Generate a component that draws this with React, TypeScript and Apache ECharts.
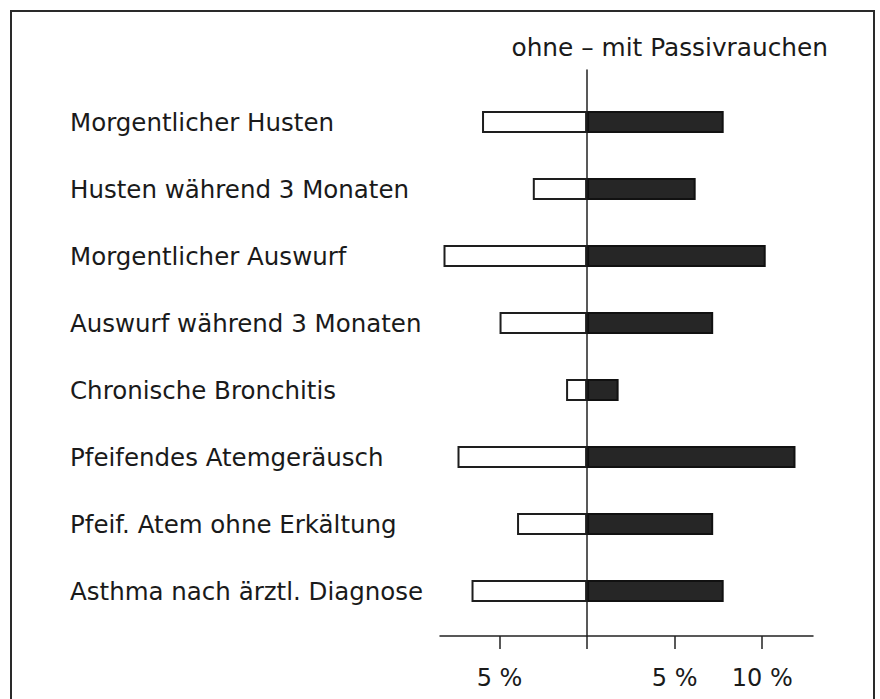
import React, { useEffect, useRef } from "react";
import * as echarts from "echarts";

const categories = [
  "Morgentlicher Husten",
  "Husten während 3 Monaten",
  "Morgentlicher Auswurf",
  "Auswurf während 3 Monaten",
  "Chronische Bronchitis",
  "Pfeifendes Atemgeräusch",
  "Pfeif. Atem ohne Erkältung",
  "Asthma nach ärztl. Diagnose",
];
const ohnePassivrauchen = [6.0, 3.1, 8.2, 5.0, 1.2, 7.4, 4.0, 6.6];
const mitPassivrauchen = [7.8, 6.2, 10.2, 7.2, 1.8, 11.9, 7.2, 7.8];
const tickValues = [-5, 0, 5, 10];
const labelValues = [-5, 5, 10];
const titleText = "ohne – mit Passivrauchen";

const X_MIN = -8.4;
const X_MAX = 12.9;
const FONT = "'DejaVu Sans', sans-serif";
const INK = "#1a1a1a";

export default function App() {
  const ref = useRef<HTMLDivElement>(null);
  useEffect(() => {
    if (!ref.current) return;
    const chart = echarts.init(ref.current, null, { renderer: "svg" });
    chart.setOption({
      animation: false,
      backgroundColor: "#ffffff",
      title: {
        text: titleText,
        right: 47,
        top: 30,
        textStyle: { fontFamily: FONT, fontSize: 24.8, fontWeight: "normal", color: INK },
      },
      graphic: [
        {
          type: "rect",
          shape: { x: 11, y: 11, width: 863, height: 720 },
          style: { fill: "none", stroke: "#2a2a2a", lineWidth: 2 },
          silent: true,
        },
      ],
      grid: [
        { left: 440, right: 67, top: 88.5, height: 536 },
        { left: 440, right: 67, top: 70, bottom: 63 },
      ],
      xAxis: [
        {
          gridIndex: 0,
          type: "value",
          min: X_MIN,
          max: X_MAX,
          show: false,
        },
        {
          gridIndex: 1,
          type: "value",
          min: X_MIN,
          max: X_MAX,
          axisLine: { show: true, onZero: false, lineStyle: { color: "#222", width: 1.5 } },
          axisTick: {
            show: true,
            length: 13,
            customValues: tickValues,
            lineStyle: { color: "#222", width: 1.5 },
          },
          axisLabel: {
            customValues: labelValues,
            margin: 30,
            fontFamily: FONT,
            fontSize: 24,
            color: INK,
            formatter: (v: number) => Math.abs(v) + " %",
          },
          splitLine: { show: false },
        },
      ],
      yAxis: [
        {
          gridIndex: 0,
          type: "category",
          data: categories,
          inverse: true,
          axisLine: { show: false },
          axisTick: { show: false },
          axisLabel: {
            align: "left",
            margin: 370,
            fontFamily: FONT,
            fontSize: 24.5,
            color: INK,
          },
        },
        {
          gridIndex: 1,
          type: "value",
          min: 0,
          max: 1,
          axisLine: { show: true, onZero: true, lineStyle: { color: "#222", width: 1.5 } },
          axisTick: { show: false },
          axisLabel: { show: false },
          splitLine: { show: false },
        },
      ],
      series: [
        {
          name: "ohne",
          type: "bar",
          xAxisIndex: 0,
          yAxisIndex: 0,
          data: ohnePassivrauchen.map((v) => -v),
          barWidth: 22,
          barGap: "-100%",
          itemStyle: { color: "#ffffff", borderColor: "#1e1e1e", borderWidth: 2 },
          z: 2,
        },
        {
          name: "mit",
          type: "bar",
          xAxisIndex: 0,
          yAxisIndex: 0,
          data: mitPassivrauchen,
          barWidth: 22,
          barGap: "-100%",
          itemStyle: { color: "#262626", borderColor: "#111", borderWidth: 2 },
          z: 2,
        },
      ],
    });
    return () => chart.dispose();
  }, []);
  return (
    <div
      ref={ref}
      style={{ position: "fixed", left: 0, top: 0, width: 880, height: 699 }}
    />
  );
}
